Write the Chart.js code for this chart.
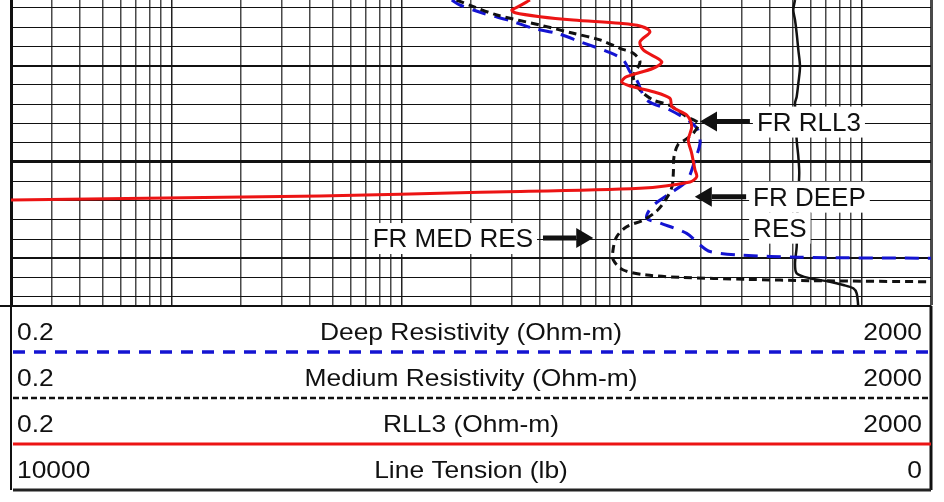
<!DOCTYPE html>
<html>
<head>
<meta charset="utf-8">
<script src="https://cdn.jsdelivr.net/npm/chart.js@4"></script>
<style>
  html, body { margin: 0; padding: 0; background: #fff; }
</style>
</head>
<body>
<canvas id="logChart" width="944" height="502"></canvas>
<script>
// depth in ft, resistivity in ohm-m, tension in lb
const deepDepth = [5033.17, 5033.69, 5034.55, 5035.32, 5036.11, 5036.63, 5037.50, 5038.64, 5039.40, 5040.62, 5041.48, 5043.56, 5044.60, 5045.81, 5046.68, 5048.06, 5049.79, 5051.97, 5053.25, 5054.64, 5055.82, 5056.34, 5057.41, 5058.62, 5059.30, 5059.66, 5059.90, 5060.00];
const deepRes = [16.5, 17.9, 22.6, 29.6, 37.3, 47.2, 59.6, 80.4, 91.9, 98.2, 105, 116.1, 146.6, 179.2, 194, 198, 188.4, 173.3, 146.6, 122.4, 116.1, 132.6, 173.3, 198, 218.8, 295.6, 538.6, 2000];

const medDepth = [5033.17, 5033.86, 5034.73, 5035.77, 5036.63, 5037.32, 5038.19, 5038.71, 5039.61, 5041.17, 5042.52, 5043.56, 5044.13, 5045.29, 5045.98, 5047.02, 5047.71, 5048.18, 5049.45, 5051.17, 5052.57, 5053.74, 5055.09, 5056.03, 5056.72, 5057.76, 5058.97, 5060.18, 5061.22, 5061.74, 5061.98, 5062.19, 5062.33, 5062.44];
const medRes = [17.3, 20.5, 25.9, 39.9, 55.7, 72.8, 88.9, 101.5, 108.6, 101.5, 108.6, 124, 146.6, 173.3, 194.6, 185.2, 170.2, 159, 152.6, 151.6, 149.6, 141.9, 128.4, 112.2, 95, 86, 83.1, 83.1, 91.9, 116.1, 162.1, 316, 615.4, 2000];

const rll3Depth = [5033.17, 5033.86, 5034.21, 5034.49, 5034.90, 5035.25, 5035.59, 5035.87, 5036.46, 5037.50, 5038.36, 5039.58, 5040.26, 5041.14, 5041.66, 5042.10, 5042.70, 5043.38, 5044.25, 5045.12, 5046.33, 5047.71, 5049.10, 5050.83, 5051.53, 5052.08, 5052.73, 5053.14, 5053.53, 5053.95];
const rll3Res = [36.1, 32.1, 30.1, 31.1, 39.9, 55.7, 88.9, 108.6, 120, 108.6, 112.2, 135, 124, 95, 90.4, 98.2, 124, 146.6, 149.6, 173.3, 182.2, 176.1, 182.2, 188.4, 191.6, 179.2, 108.6, 21.9, 4.41, 0.2];

const tensionDepth = [5033.17, 5034.21, 5035.25, 5036.63, 5038.36, 5040.10, 5041.82, 5043.22, 5043.90, 5047.71, 5049.45, 5051.17, 5054.99, 5058.80, 5060.53, 5061.56, 5062.08, 5062.44, 5062.78, 5063.12, 5063.64, 5065.03];
const tensionLb = [1478, 1497, 1478, 1460, 1442, 1424, 1442, 1460, 1478, 1460, 1442, 1432, 1451, 1460, 1478, 1460, 1315, 1098, 953, 845, 808, 790];

// grid lines
const resGrid = [0.2, 0.3, 0.4, 0.5, 0.6, 0.7, 0.8, 0.9, 1, 2, 3, 4, 5, 6, 7, 8, 9, 10, 20, 30, 40, 50, 60, 70, 80, 90, 100, 200, 300, 400, 500, 600, 700, 800, 900, 1000, 2000];
const decadeLines = [1, 10, 100, 1000];
const depthGrid = [5034, 5036, 5038, 5040, 5042, 5044, 5046, 5048, 5050, 5052, 5054, 5056, 5058, 5060, 5062, 5064];

// header rows
const curveNames = ['Deep Resistivity (Ohm-m)', 'Medium Resistivity (Ohm-m)', 'RLL3 (Ohm-m)', 'Line Tension (lb)'];
const scaleLeft = ['0.2', '0.2', '0.2', '10000'];
const scaleRight = ['2000', '2000', '2000', '0'];

// callout labels
const calloutLines = [['FR RLL3'], ['FR DEEP', 'RES'], ['FR MED RES']];
const calloutTipRes = [198, 188, 68];
const calloutDepth = [5045.8, 5053.6, 5057.9];
const calloutTextRes = [350, 337, 37.2];

const RED = '#ec1414';
const BLUE = '#1414d2';
const FONT = 'Arial, "Liberation Sans", sans-serif';

function pairs(xs, ys) {
  return xs.map((x, i) => ({ x: x, y: ys[i] }));
}

const calloutPlugin = {
  id: 'callouts',
  afterDatasetsDraw(chart) {
    const ctx = chart.ctx;
    const xs = chart.scales.x, ys = chart.scales.y;
    ctx.save();
    ctx.font = '26px ' + FONT;
    ctx.fillStyle = '#111';
    ctx.strokeStyle = '#111';
    calloutLines.forEach((lines, i) => {
      const tipX = xs.getPixelForValue(calloutTipRes[i]);
      const y = ys.getPixelForValue(calloutDepth[i]);
      const anchorX = xs.getPixelForValue(calloutTextRes[i]);
      const pointsLeft = tipX < anchorX;
      let tailX;
      lines.forEach((line, j) => {
        const w = ctx.measureText(line).width;
        const cy = y + j * 31;
        const tx = pointsLeft ? anchorX : anchorX - w;
        ctx.fillStyle = '#fff';
        ctx.fillRect(tx - 4, cy - 15, w + 8, 31);
        ctx.fillStyle = '#111';
        ctx.fillText(line, tx, cy + 9.3);
      });
      tailX = pointsLeft ? anchorX - 7 : anchorX + 10;
      const dir = Math.sign(tipX - tailX);
      const head = 17;
      ctx.lineWidth = 5;
      ctx.beginPath();
      ctx.moveTo(tailX, y);
      ctx.lineTo(tipX - dir * head, y);
      ctx.stroke();
      ctx.beginPath();
      ctx.moveTo(tipX, y);
      ctx.lineTo(tipX - dir * head, y - 10);
      ctx.lineTo(tipX - dir * head, y + 10);
      ctx.closePath();
      ctx.fill();
    });
    ctx.restore();
  }
};

const headerPlugin = {
  id: 'header',
  afterDraw(chart) {
    const ctx = chart.ctx;
    const { left, right, bottom } = chart.chartArea;
    const seps = [
      { color: BLUE, dash: [12, 9], width: 3.5 },
      { color: '#111', dash: [6, 3], width: 2.5 },
      { color: RED, dash: [], width: 3 },
      { color: '#222', dash: [], width: 3 }
    ];
    ctx.save();
    // plot bottom stub and table sides
    ctx.strokeStyle = '#111';
    ctx.lineWidth = 2;
    ctx.beginPath();
    ctx.moveTo(0, bottom); ctx.lineTo(left, bottom);
    ctx.moveTo(left, bottom); ctx.lineTo(left, bottom + 46 * 4);
    ctx.stroke();
    ctx.lineWidth = 3;
    ctx.beginPath();
    ctx.moveTo(right, bottom); ctx.lineTo(right, bottom + 46 * 4);
    ctx.stroke();

    ctx.font = '24px ' + FONT;
    ctx.fillStyle = '#111';
    curveNames.forEach((name, i) => {
      const sepY = bottom + 46 * (i + 1);
      const base = sepY - 21 + 8.6;
      const s = seps[i];
      ctx.strokeStyle = s.color;
      ctx.lineWidth = s.width;
      ctx.setLineDash(s.dash);
      ctx.beginPath();
      ctx.moveTo(left + 2, sepY);
      ctx.lineTo(right, sepY);
      ctx.stroke();
      ctx.setLineDash([]);
      const texts = [[scaleLeft[i], left + 6, 'left'], [name, (left + right) / 2, 'center'], [scaleRight[i], right - 9, 'right']];
      texts.forEach(([t, x, align]) => {
        ctx.save();
        ctx.translate(x, base);
        ctx.scale(1.1, 1);
        ctx.textAlign = align;
        ctx.fillText(t, 0, 0);
        ctx.restore();
      });
    });
    ctx.restore();
  }
};

new Chart(document.getElementById('logChart'), {
  type: 'scatter',
  data: {
    datasets: [
      { label: 'Deep Resistivity', data: pairs(deepRes, deepDepth), xAxisID: 'x', borderColor: BLUE, borderWidth: 3, borderDash: [14, 9], order: 3 },
      { label: 'Medium Resistivity', data: pairs(medRes, medDepth), xAxisID: 'x', borderColor: '#111', borderWidth: 3, borderDash: [8, 5], order: 2 },
      { label: 'RLL3', data: pairs(rll3Res, rll3Depth), xAxisID: 'x', borderColor: RED, borderWidth: 3, order: 1 },
      { label: 'Line Tension', data: pairs(tensionLb, tensionDepth), xAxisID: 'xT', borderColor: '#111', borderWidth: 2.5, order: 4 }
    ]
  },
  options: {
    responsive: false,
    animation: false,
    showLine: true,
    elements: { point: { radius: 0 }, line: { tension: 0.3, fill: false } },
    layout: { padding: { left: 11, right: 13, top: 0, bottom: 196 } },
    plugins: { legend: { display: false }, tooltip: { enabled: false } },
    scales: {
      x: {
        type: 'logarithmic',
        min: 0.2,
        max: 2000,
        afterBuildTicks: axis => { axis.ticks = resGrid.map(v => ({ value: v })); },
        ticks: { display: false },
        grid: {
          drawTicks: false,
          color: c => (c.tick && decadeLines.includes(c.tick.value)) ? '#222' : '#4a4a4a',
          lineWidth: c => (c.tick && c.tick.value === 2000) ? 3 : 1.5
        },
        border: { display: true, color: '#111', width: 2 }
      },
      xT: {
        type: 'linear',
        display: false,
        min: 0,
        max: 10000,
        reverse: true
      },
      y: {
        type: 'linear',
        reverse: true,
        min: 5033.17,
        max: 5064.96,
        afterBuildTicks: axis => { axis.ticks = depthGrid.map(v => ({ value: v })); },
        ticks: { display: false },
        grid: {
          drawTicks: false,
          color: '#111',
          lineWidth: c => {
            const v = c.tick ? c.tick.value : 0;
            if (v === 5050) return 3;
            if (v % 10 === 0) return 2;
            return 1;
          }
        },
        border: { display: true, color: '#111', width: 3 }
      }
    }
  },
  plugins: [calloutPlugin, headerPlugin]
});
</script>
</body>
</html>
